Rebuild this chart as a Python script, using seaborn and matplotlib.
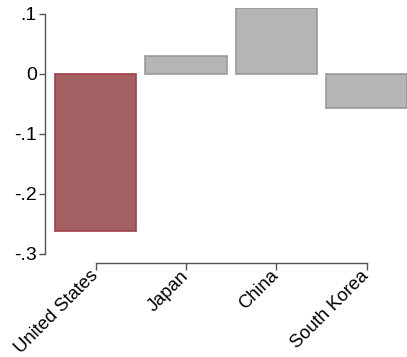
import matplotlib
matplotlib.use("Agg")
import matplotlib.pyplot as plt
import matplotlib.transforms as mtransforms
import seaborn as sns
import pandas as pd

countries = ["United States", "Japan", "China", "South Korea"]
values = [-0.262, 0.030, 0.110, -0.057]
fill_colors = ["#a45f63", "#b5b5b5", "#b5b5b5", "#b5b5b5"]
edge_colors = ["#a0404a", "#999999", "#999999", "#999999"]
y_ticks = [-0.3, -0.2, -0.1, 0.0, 0.1]
y_tick_labels = ["-.3", "-.2", "-.1", "0", ".1"]

sns.set_style("white")
plt.rcParams["font.family"] = ["Liberation Sans", "DejaVu Sans"]

df = pd.DataFrame({"country": countries, "value": values})

W, H = 407, 357
fig = plt.figure(figsize=(W / 100, H / 100), dpi=100)
ax = fig.add_axes([50 / W, 1 - 254 / H, (407 - 50) / W, (254 - 8) / H])

sns.barplot(data=df, x="country", y="value", hue="country",
            palette=fill_colors, order=countries, width=0.9,
            saturation=1, legend=False, ax=ax, linewidth=1.2)
for patch, ec in zip(ax.patches, edge_colors):
    patch.set_edgecolor(ec)

ax.set_xlim(-0.504, 3.448)
ax.set_ylim(-0.3, 0.11)
ax.set_yticks(y_ticks)
ax.set_yticklabels(y_tick_labels)
ax.set_xlabel("")
ax.set_ylabel("")

sns.despine(ax=ax)
ax.spines["left"].set_position(("outward", 3.6))
ax.spines["bottom"].set_position(("outward", 6.5))
ax.spines["left"].set_bounds(-0.3, 0.1)
ax.spines["bottom"].set_bounds(0, 3)
for s in ("left", "bottom"):
    ax.spines[s].set_color("#555555")
    ax.spines[s].set_linewidth(1.0)

ax.tick_params(axis="y", which="major", length=4, width=1.0,
               color="#555555", labelsize=14, labelcolor="black", pad=2,
               left=True)
ax.tick_params(axis="x", which="major", length=5, width=1.0,
               color="#555555", labelsize=13.2, labelcolor="black", pad=1,
               bottom=True)
# rotated labels hang from their bottom-right corner just under each tick
plt.setp(ax.get_xticklabels(), rotation=45, ha="right", va="bottom",
         rotation_mode="anchor")
shift = mtransforms.ScaledTranslation(6 / 100, -8 / 100, fig.dpi_scale_trans)
for lbl in ax.get_xticklabels():
    lbl.set_transform(lbl.get_transform() + shift)

fig.savefig("out.png", dpi=100)
